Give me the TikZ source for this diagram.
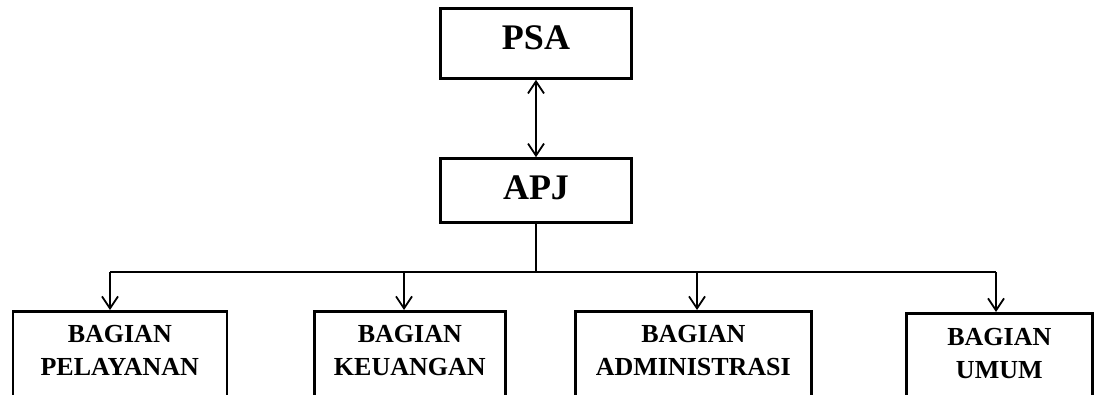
\documentclass[tikz,border=0pt]{standalone}
\usepackage{fontspec}
\setmainfont{Liberation Serif}
\usetikzlibrary{arrows.meta}
\begin{document}
\begin{tikzpicture}[x=1pt,y=-1pt,
  topbox/.style={draw,line width=2.6pt,inner sep=0pt,minimum width=191pt,minimum height=70pt,
    font=\fontsize{36}{40}\selectfont\bfseries,text height=24pt},
  lowbox/.style={draw,line width=2.6pt,inner sep=0pt,anchor=north west,minimum height=120pt},
  lbl/.style={inner sep=0pt,anchor=north,align=center,font=\fontsize{26}{33}\selectfont\bfseries},
  conn/.style={line width=1.8pt},
  arr/.style={conn,-{Straight Barb[length=12pt,width=16pt]}},
  darr/.style={conn,{Straight Barb[length=12pt,width=16pt]}-{Straight Barb[length=12pt,width=16pt]}}]
\useasboundingbox (0,0) rectangle (1096,394);
\clip (0,0) rectangle (1096,394);
\fill[white] (0,0) rectangle (1096,394);
% top boxes
\node[topbox,text depth=13pt] (psa) at (536,43.5) {PSA};
\node[topbox,text depth=7pt,minimum height=64pt] (apj) at (536,190.5) {APJ};
% bottom boxes
\node[lowbox,minimum width=214pt] (b1) at (11.5,310) {};
\node[lowbox,minimum width=191pt] (b2) at (313,310) {};
\node[lowbox,minimum width=236pt] (b3) at (574,310) {};
\node[lowbox,minimum width=186pt] (b4) at (905,312) {};
\node[lbl] (t1) at ([yshift=-15pt]b1.north) {BAGIAN\\PELAYANAN};
\node[lbl] (t2) at ([yshift=-15pt]b2.north) {BAGIAN\\KEUANGAN};
\node[lbl] (t3) at ([yshift=-15pt]b3.north) {BAGIAN\\ADMINISTRASI};
\node[lbl] (t4) at ([yshift=-16pt]b4.north) {BAGIAN\\UMUM};
% bus coordinates
\coordinate (j) at (536,272);
\coordinate (c1) at (110,272);
\coordinate (c2) at (404,272);
\coordinate (c3) at (697,272);
\coordinate (c4) at (996,272);
% connectors
\draw[darr] (psa.south) -- (apj.north);
\draw[conn] (apj.south) -- (j);
\draw[conn] (c1) -- (c4);
\draw[arr] (c1) -- (c1 |- b1.north);
\draw[arr] (c2) -- (c2 |- b2.north);
\draw[arr] (c3) -- (c3 |- b3.north);
\draw[arr] (c4) -- (c4 |- b4.north);
\end{tikzpicture}
\end{document}
